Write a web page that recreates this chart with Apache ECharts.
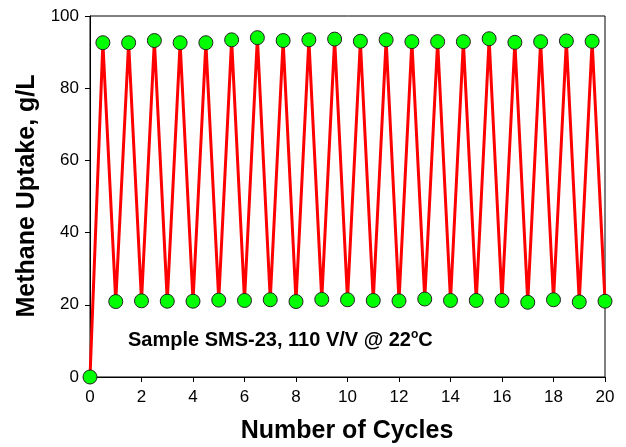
<!DOCTYPE html>
<html>
<head>
<meta charset="utf-8">
<script src="https://cdn.jsdelivr.net/npm/echarts@6/dist/echarts.min.js"></script>
<style>
  html, body { margin: 0; padding: 0; background: #fff; }
  #chart { width: 626px; height: 447px; }
</style>
</head>
<body>
<div id="chart"></div>
<script>
// 循环次数 (每半个循环一个点)
var cycles = [0, 0.5, 1, 1.5, 2, 2.5, 3, 3.5, 4, 4.5, 5, 5.5, 6, 6.5, 7, 7.5, 8, 8.5, 9, 9.5, 10,
              10.5, 11, 11.5, 12, 12.5, 13, 13.5, 14, 14.5, 15, 15.5, 16, 16.5, 17, 17.5, 18, 18.5, 19, 19.5, 20];
// 甲烷吸附量 g/L
var uptake = [0, 92.6, 20.9, 92.6, 21.1, 93.2, 21.0, 92.6, 21.0, 92.6, 21.3, 93.4, 21.2, 94.0, 21.4, 93.2, 20.9, 93.4, 21.5, 93.6, 21.4,
              93.0, 21.2, 93.4, 21.1, 92.9, 21.6, 92.9, 21.2, 92.9, 21.2, 93.7, 21.2, 92.7, 20.7, 92.9, 21.4, 93.1, 20.8, 93.0, 21.0];
var yTitle = 'Methane Uptake, g/L';
var xTitle = 'Number of Cycles';

var font = 'Liberation Sans, Arial, sans-serif';

function drawChart(id) {
    var myChart = echarts.init(document.getElementById(id));

    var points = cycles.map(function (c, i) { return [c, uptake[i]]; });

    var option = {
        animation: false,
        grid: {
            left: 90, right: 21, top: 16, bottom: 70,
            show: true,
            borderColor: '#000',
            borderWidth: 1
        },
        xAxis: {
            type: 'value',
            min: 0, max: 20, interval: 2,
            axisLine: { lineStyle: { color: '#000', width: 1 } },
            axisTick: { show: true, length: 5, lineStyle: { color: '#000' } },
            axisLabel: { color: '#000', fontSize: 17, fontFamily: font, margin: 12 },
            splitLine: { show: false }
        },
        yAxis: {
            type: 'value',
            min: 0, max: 100, interval: 20,
            axisLine: { show: true, lineStyle: { color: '#000', width: 1 } },
            axisTick: { show: true, length: 5, lineStyle: { color: '#000' } },
            axisLabel: { color: '#000', fontSize: 17, fontFamily: font, margin: 11 },
            splitLine: { show: false }
        },
        series: [{
            type: 'line',
            data: points,
            lineStyle: { color: '#ff0000', width: 3 },
            symbol: 'circle',
            symbolSize: 14,
            itemStyle: { color: '#00ff00', borderColor: '#222', borderWidth: 1 },
            z: 3
        }],
        graphic: [
            {
                type: 'text',
                left: 128, top: 329,
                style: {
                    text: '{a|Sample SMS-23, 110 V/V @ 22}{s|o}{a|C}',
                    rich: {
                        a: { fontSize: 20, fontWeight: 'bold', fontFamily: font, fill: '#000', verticalAlign: 'bottom' },
                        s: { fontSize: 12, fontWeight: 'bold', fontFamily: font, fill: '#000', verticalAlign: 'top', padding: [0, 0, 9, 0] }
                    }
                }
            },
            {
                type: 'text',
                x: 347, y: 431,
                style: {
                    text: xTitle,
                    fontSize: 25, fontWeight: 'bold', fontFamily: font, fill: '#000',
                    align: 'center', verticalAlign: 'middle'
                }
            },
            {
                type: 'text',
                x: 27, y: 196,
                rotation: Math.PI / 2,
                style: {
                    text: yTitle,
                    fontSize: 25, fontWeight: 'bold', fontFamily: font, fill: '#000',
                    align: 'center', verticalAlign: 'middle'
                }
            }
        ]
    };

    myChart.setOption(option);
}

drawChart('chart');
</script>
</body>
</html>
